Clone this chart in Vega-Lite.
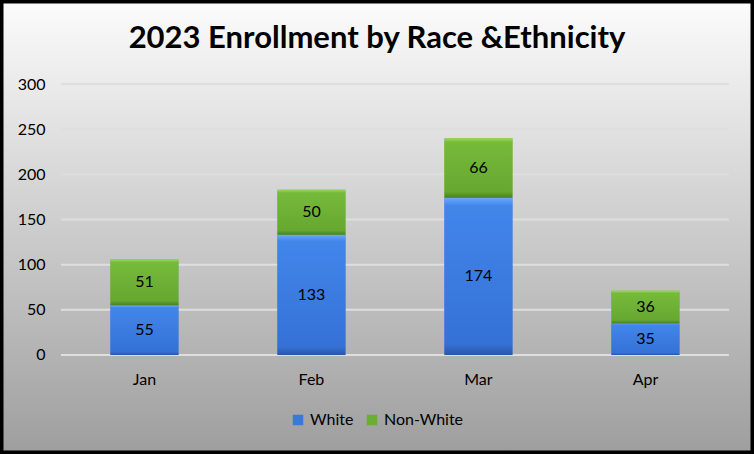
{
  "$schema": "https://vega.github.io/schema/vega-lite/v6.json",
  "width": 754,
  "height": 454,
  "autosize": "none",
  "padding": 0,
  "background": "#a0a0a0",
  "view": {
    "fill": {
      "gradient": "linear",
      "x1": 0, "y1": 0, "x2": 0, "y2": 1,
      "stops": [
        {"offset": 0, "color": "#fcfcfc"},
        {"offset": 1, "color": "#9e9e9e"}
      ]
    },
    "stroke": "black",
    "strokeWidth": 7
  },
  "title": {
    "text": "2023 Enrollment by Race &Ethnicity",
    "font": "Lato",
    "fontSize": 31,
    "fontWeight": "bold",
    "color": "black",
    "anchor": "middle",
    "frame": "group",
    "baseline": "alphabetic",
    "offset": -79
  },
  "datasets": {
    "enroll": [
      {"month": "Jan", "race": "White", "n": 55},
      {"month": "Jan", "race": "Non-White", "n": 51},
      {"month": "Feb", "race": "White", "n": 133},
      {"month": "Feb", "race": "Non-White", "n": 50},
      {"month": "Mar", "race": "White", "n": 174},
      {"month": "Mar", "race": "Non-White", "n": 66},
      {"month": "Apr", "race": "White", "n": 35},
      {"month": "Apr", "race": "Non-White", "n": 36}
    ],
    "grid": [
      {"g": 0}, {"g": 50}, {"g": 100}, {"g": 150}, {"g": 200}, {"g": 250}, {"g": 300}
    ]
  },
  "layer": [
    {
      "data": {"name": "grid"},
      "mark": {"type": "rule", "color": "#dedede", "strokeWidth": 2},
      "encoding": {
        "y": {"field": "g", "type": "quantitative"},
        "x": {"datum": "Jan", "bandPosition": -0.728},
        "x2": {"datum": "Apr", "bandPosition": 1.728}
      }
    },
    {
      "data": {"name": "enroll"},
      "mark": {"type": "bar"},
      "encoding": {
        "x": {"field": "month", "type": "nominal"},
        "y": {"field": "n", "type": "quantitative", "stack": "zero"},
        "order": {"field": "race", "sort": "descending"},
        "color": {
          "field": "race",
          "type": "nominal",
          "sort": ["White", "Non-White"],
          "scale": {
            "domain": ["White", "Non-White"],
            "range": ["#3a78dc", "#6aae33"]
          },
          "legend": {
            "title": null,
            "orient": "none",
            "legendX": 290,
            "legendY": 412,
            "direction": "horizontal",
            "symbolType": "square",
            "symbolSize": 110,
            "symbolStrokeColor": "#2a58a8",
            "symbolStrokeWidth": 0,
            "labelFont": "Lato",
            "labelFontSize": 16,
            "labelColor": "black",
            "labelOffset": 4,
            "columnPadding": 10
          }
        }
      }
    },
    {
      "data": {"name": "enroll"},
      "mark": {"type": "bar"},
      "encoding": {
        "x": {"field": "month", "type": "nominal"},
        "y": {"field": "n", "type": "quantitative", "stack": "zero"},
        "order": {"field": "race", "sort": "descending"},
        "detail": {"field": "race"},
        "fill": {
          "condition": {
            "test": "datum.race === 'White'",
            "value": {
              "gradient": "linear", "x1": 0, "y1": 0, "x2": 0, "y2": 1,
              "stops": [
                {"offset": 0, "color": "#6aa8f8"},
                {"offset": 0.05, "color": "#4286ea"},
                {"offset": 0.93, "color": "#3571d6"},
                {"offset": 1, "color": "#2a57a6"}
              ]
            }
          },
          "value": {
            "gradient": "linear", "x1": 0, "y1": 0, "x2": 0, "y2": 1,
            "stops": [
              {"offset": 0, "color": "#9adb5c"},
              {"offset": 0.07, "color": "#76ba3b"},
              {"offset": 0.9, "color": "#66a830"},
              {"offset": 1, "color": "#4a7e22"}
            ]
          }
        }
      }
    },
    {
      "data": {"name": "enroll"},
      "mark": {"type": "text", "font": "Lato", "fontSize": 16, "color": "black", "baseline": "middle"},
      "encoding": {
        "x": {"field": "month", "type": "nominal"},
        "y": {"field": "n", "type": "quantitative", "stack": "zero", "bandPosition": 0.5},
        "order": {"field": "race", "sort": "descending"},
        "detail": {"field": "race"},
        "text": {"field": "n", "type": "quantitative"}
      }
    }
  ],
  "encoding": {
    "x": {
      "field": "month",
      "type": "nominal",
      "sort": ["Jan", "Feb", "Mar", "Apr"],
      "scale": {"paddingInner": 0.593, "paddingOuter": 0.554, "align": 0.597},
      "axis": {
        "title": null,
        "orient": "bottom",
        "offset": -99,
        "domain": false,
        "ticks": false,
        "labelAngle": 0,
        "labelPadding": 16,
        "labelFont": "Lato",
        "labelFontSize": 16,
        "labelColor": "black"
      }
    },
    "y": {
      "type": "quantitative",
      "scale": {"domain": [-109.6, 393.0], "nice": false, "zero": false},
      "axis": {
        "title": null,
        "values": [0, 50, 100, 150, 200, 250, 300],
        "offset": -49,
        "domain": false,
        "ticks": false,
        "grid": false,
        "labelPadding": 4,
        "labelFont": "Lato",
        "labelFontSize": 16,
        "labelColor": "black"
      }
    }
  }
}
